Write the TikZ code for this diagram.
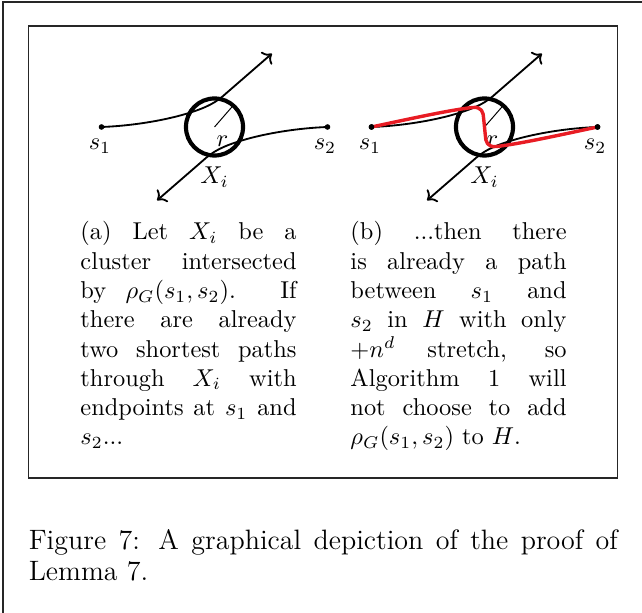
\documentclass[tikz,border=0pt]{standalone}
\usetikzlibrary{arrows.meta}
\definecolor{pathred}{RGB}{232,28,36}
\begin{document}
\begin{tikzpicture}[x=0.41pt,y=-0.41pt,
  frame/.style={draw=black!85,line width=0.6pt},
  box/.style={draw=black!85,line width=0.55pt},
  dot/.style={circle,fill=black,inner sep=0pt,minimum size=2.3pt},
  blackpath/.style={line width=0.75pt,black},
  cluster/.style={line width=1.7pt,black},
  radiusline/.style={line width=0.4pt,black},
  redpath/.style={line width=1.4pt,pathred,line cap=round,line join=round},
  lbl/.style={inner sep=0pt,anchor=base},
  txt/.style={inner sep=0pt,anchor=base west}]
\useasboundingbox (0,0) rectangle (642,613);
% outer page frame
\draw[frame] (3,613) -- (3,2) -- (642,2);
% inner figure box
\draw[box] (28.3,26) rectangle (617.3,478);

% ---------- left diagram ----------
\begin{scope}[shift={(214.5,127)}]
  \coordinate (Ca) at (0,0);
  \node[dot] (s1a) at (-113,0) {};
  \node[dot] (s2a) at (113,0) {};
  \coordinate (ta) at (57.4,-73.4);
  \coordinate (ba) at (-57.4,73.4);
  \draw[cluster] (Ca) circle[radius=11.7pt];
  \draw[radiusline] (Ca) -- ++(-49:27);
  \draw[blackpath,->] (s1a.center) .. controls (-85,-1) and (-52.6,-5.9) .. (-27.6,-13.4)
     .. controls (-15.6,-17) and (-2,-21.8) .. (8,-30.5) -- (ta);
  \draw[blackpath,<-] (ba) -- (-8,30.5) .. controls (2,21.8) and (15.6,17) .. (27.6,13.4)
     .. controls (52.6,5.9) and (85,1) .. (s2a.center);
  \node[lbl] (ls1a) at (-114.5,23) {$s_1$};
  \node[lbl] (ls2a) at (110.5,23) {$s_2$};
  \node[lbl] (lra) at (8,19.5) {$r$};
  \node[lbl] (lxa) at (0,56.5) {$X_i$};
\end{scope}

% ---------- right diagram ----------
\begin{scope}[shift={(484.5,127)}]
  \coordinate (Cb) at (0,0);
  \node[dot] (s1b) at (-113,0) {};
  \node[dot] (s2b) at (113,0) {};
  \coordinate (tb) at (57.4,-73.4);
  \coordinate (bb) at (-57.4,73.4);
  \draw[cluster] (Cb) circle[radius=11.7pt];
  \draw[radiusline] (Cb) -- ++(-49:27);
  \draw[blackpath,->] (s1b.center) .. controls (-85,-1) and (-52.6,-5.9) .. (-27.6,-13.4)
     .. controls (-15.6,-17) and (-2,-21.8) .. (8,-30.5) -- (tb);
  \draw[blackpath,<-] (bb) -- (-8,30.5) .. controls (2,21.8) and (15.6,17) .. (27.6,13.4)
     .. controls (52.6,5.9) and (85,1) .. (s2b.center);
  \node[lbl] (lrb) at (8,19.5) {$r$};
  \node[lbl] (lxb) at (0,56.5) {$X_i$};
  \draw[redpath] (s1b.center) .. controls (-80,-7) and (-35,-17) .. (-12,-19.5)
     .. controls (-3,-20.5) and (-1,-15) .. (-0.8,-8) -- (0.8,8)
     .. controls (1,15) and (3,20.5) .. (12,19.5)
     .. controls (35,17) and (80,7) .. (s2b.center);
  \node[dot] (d1b) at (s1b) {};
  \node[dot] (d2b) at (s2b) {};
  \node[lbl] (ls1b) at (-114.5,23) {$s_1$};
  \node[lbl] (ls2b) at (110.5,23) {$s_2$};
\end{scope}

% ---------- sub-captions ----------
\node[txt] (capa) at (80,240) {\parbox[t]{88.6pt}{\fontsize{10}{12}\selectfont
  \hyphenpenalty=10000\tolerance=10000
  (a) Let $X_i$ be a\linebreak
  cluster intersected\linebreak
  by $\rho_G(s_1, s_2)$. If\linebreak
  there are already\linebreak
  two shortest paths\linebreak
  through $X_i$ with\linebreak
  endpoints at $s_1$ and\linebreak
  $s_2$...}};
\node[txt] (capb) at (350,240) {\parbox[t]{88.6pt}{\fontsize{10}{12}\selectfont
  \hyphenpenalty=10000\tolerance=10000
  (b) ...then there\linebreak
  is already a path\linebreak
  between $s_1$ and\linebreak
  $s_2$ in $H$ with only\linebreak
  $+n^d$ stretch, so\linebreak
  Algorithm 1 will\linebreak
  not choose to add\linebreak
  $\rho_G(s_1, s_2)$ to $H$.}};

% ---------- figure caption ----------
\node[txt] (cap) at (28.3,550) {\parbox[t]{241.5pt}{\fontsize{11.5}{12.7}\selectfont
  \hyphenpenalty=10000\tolerance=10000
  Figure 7: A graphical depiction of the proof of\linebreak
  Lemma 7.}};
\end{tikzpicture}
\end{document}
